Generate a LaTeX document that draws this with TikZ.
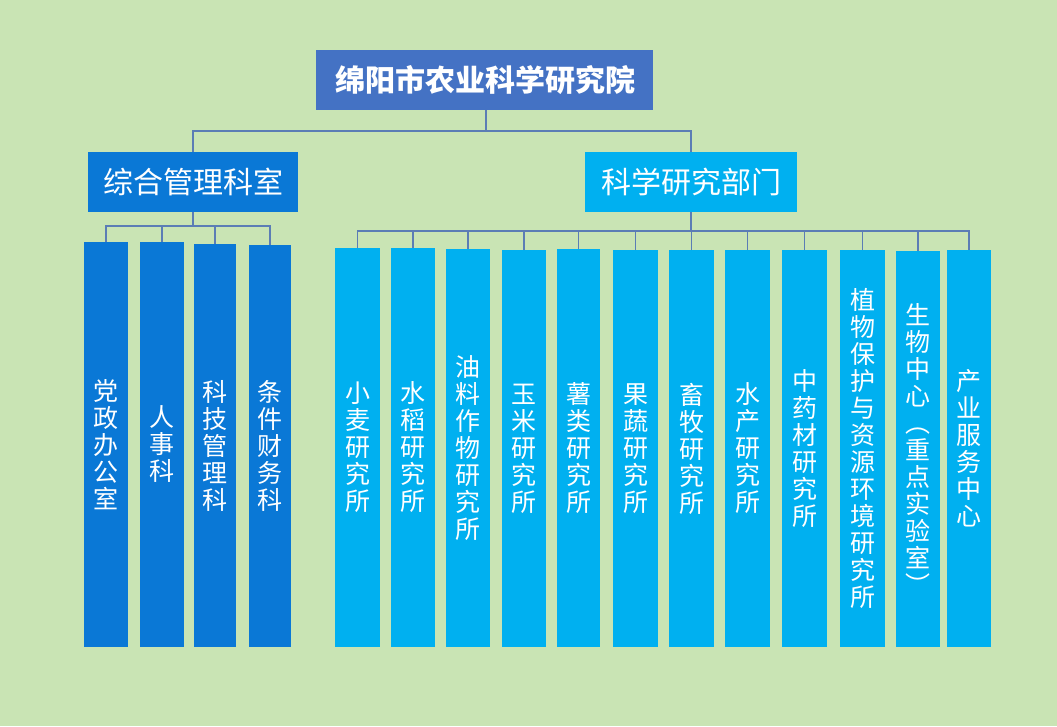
\documentclass[tikz,border=0pt]{standalone}
\usepackage{fontspec}
\setmainfont{Noto Sans CJK SC}
\definecolor{bg}{HTML}{C9E4B4}
\definecolor{topc}{HTML}{4472C4}
\definecolor{darkc}{HTML}{0A78D6}
\definecolor{lightc}{HTML}{00B0F0}
\definecolor{linec}{HTML}{5B7DB5}
\tikzset{
  hbox/.style={draw=none,text=white,inner sep=0pt,anchor=north west},
  col/.style={draw=none,text=white,inner sep=0pt,align=center,font=\fontsize{25}{27}\selectfont},
  conn/.style={draw=linec,line width=1.2pt}
}
\newcommand{\colbox}[6]{% name x1 x2 y1 color text
  \fill[#5] (#2,#4) rectangle (#3,647);
  \node[col] (#1) at ({(#2+#3)/2},{(#4+647)/2}) {#6};
  \coordinate (#1t) at ({(#2+#3)/2},#4);
}
\begin{document}
\begin{tikzpicture}[x=1pt,y=-1pt]
\fill[bg] (0,0) rectangle (1057,726);
\useasboundingbox (0,0) rectangle (1057,726);
% headers
\fill[topc] (316,50) rectangle (653,110);
\node[text=white,font=\fontsize{30}{30}\bfseries\selectfont] (top) at (485,80) {绵阳市农业科学研究院};
\coordinate (topb) at (486,110);
\fill[darkc] (88,152) rectangle (298,212);
\node[text=white,font=\fontsize{30}{30}\selectfont] (L) at (193,182) {综合管理科室};
\coordinate (Lt) at (193,152); \coordinate (Lb) at (193,212);
\fill[lightc] (585,152) rectangle (797,212);
\node[text=white,font=\fontsize{30}{30}\selectfont] (R) at (691,182) {科学研究部门};
\coordinate (Rt) at (691,152); \coordinate (Rb) at (691,212);
% top connectors
\draw[conn] (topb) -- (486,131) -| (Lt);
\draw[conn] (486,131) -| (Rt);
% left columns
\colbox{a1}{84}{128}{242}{darkc}{党\\政\\办\\公\\室}
\colbox{a2}{140}{184}{242}{darkc}{人\\事\\科}
\colbox{a3}{194}{236}{244}{darkc}{科\\技\\管\\理\\科}
\colbox{a4}{249}{291}{245}{darkc}{条\\件\\财\\务\\科}
\draw[conn] (Lb) -- (193,226);
\draw[conn] (a1t) -- (106,226) -- (270,226) -- (a4t);
\draw[conn] (a2t) -- (162,226);
\draw[conn] (a3t) -- (215,226);
% right columns
\colbox{b1}{335}{380}{248}{lightc}{小\\麦\\研\\究\\所}
\colbox{b2}{391}{435}{248}{lightc}{水\\稻\\研\\究\\所}
\colbox{b3}{446}{490}{249}{lightc}{油\\料\\作\\物\\研\\究\\所}
\colbox{b4}{502}{546}{250}{lightc}{玉\\米\\研\\究\\所}
\colbox{b5}{557}{600}{249}{lightc}{薯\\类\\研\\究\\所}
\colbox{b6}{613}{658}{250}{lightc}{果\\蔬\\研\\究\\所}
\colbox{b7}{669}{714}{250}{lightc}{畜\\牧\\研\\究\\所}
\colbox{b8}{725}{770}{250}{lightc}{水\\产\\研\\究\\所}
\colbox{b9}{782}{827}{250}{lightc}{中\\药\\材\\研\\究\\所}
\colbox{b10}{840}{885}{250}{lightc}{植\\物\\保\\护\\与\\资\\源\\环\\境\\研\\究\\所}
\colbox{b11}{896}{940}{251}{lightc}{生\\物\\中\\心\\︵\\重\\点\\实\\验\\室\\︶}
\colbox{b12}{947}{991}{250}{lightc}{产\\业\\服\\务\\中\\心}
\draw[conn] (Rb) -- (691,231);
\draw[conn] (b1t) -- (357.5,231) -- (969,231) -- (b12t);
\foreach \n in {b2,b3,b4,b5,b6,b7,b8,b9,b10,b11}
  \draw[conn] (\n t) -- (\n t |- 0,231);
\end{tikzpicture}
\end{document}
